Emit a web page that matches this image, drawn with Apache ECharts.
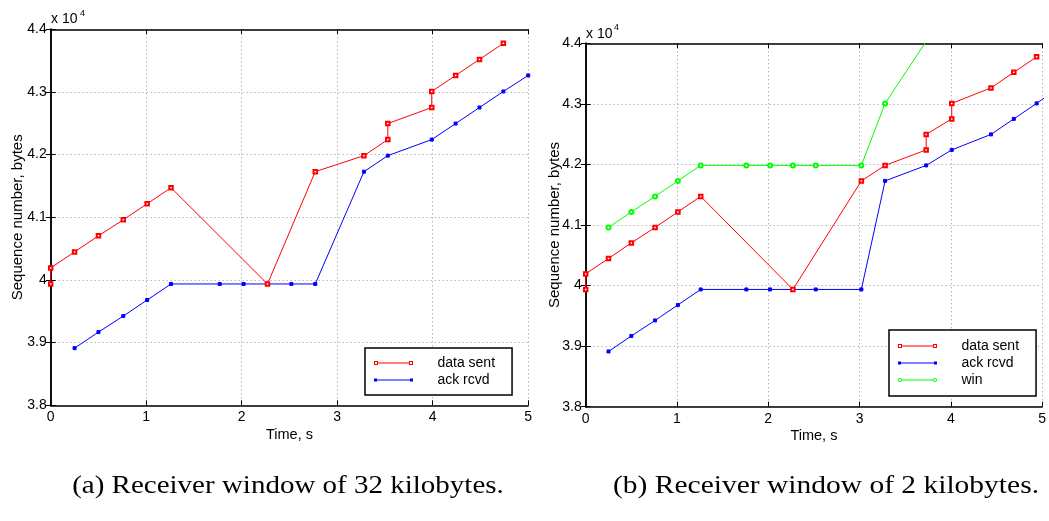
<!DOCTYPE html>
<html>
<head>
<meta charset="utf-8">
<script src="https://cdn.jsdelivr.net/npm/echarts@6/dist/echarts.min.js"></script>
<style>
html,body{margin:0;padding:0;background:#fff;}
#chart{width:1049px;height:521px;}
</style>
</head>
<body>
<div id="chart"></div>
<script>
// ---- data (time in s, sequence number in bytes) ----
const leftSentX  = [0, 0, 0.25, 0.5, 0.76, 1.01, 1.26, 2.27, 2.77, 3.28, 3.53, 3.53, 3.99, 3.99, 4.24, 4.49, 4.74];
const leftSentY  = [39936, 40192, 40448, 40704, 40960, 41216, 41472, 39936, 41728, 41984, 42240, 42496, 42752, 43008, 43264, 43520, 43776];
const leftAckX   = [0.25, 0.5, 0.76, 1.01, 1.26, 1.77, 2.02, 2.27, 2.52, 2.77, 3.28, 3.53, 3.99, 4.24, 4.49, 4.74, 5.0];
const leftAckY   = [38912, 39168, 39424, 39680, 39936, 39936, 39936, 39936, 39936, 39936, 41728, 41984, 42240, 42496, 42752, 43008, 43264];

const rightSentX = [0, 0, 0.25, 0.5, 0.76, 1.01, 1.26, 2.27, 3.02, 3.28, 3.73, 3.73, 4.01, 4.01, 4.44, 4.69, 4.94];
const rightSentY = [39936, 40192, 40448, 40704, 40960, 41216, 41472, 39936, 41728, 41984, 42240, 42496, 42752, 43008, 43264, 43520, 43776];
const rightAckX  = [0.25, 0.5, 0.76, 1.01, 1.26, 1.76, 2.02, 2.27, 2.52, 3.02, 3.28, 3.73, 4.01, 4.44, 4.69, 4.94, 5.18];
const rightAckY  = [38912, 39168, 39424, 39680, 39936, 39936, 39936, 39936, 39936, 39936, 41728, 41984, 42240, 42496, 42752, 43008, 43264];
const rightWinX  = [0.25, 0.5, 0.76, 1.01, 1.26, 1.76, 2.02, 2.27, 2.52, 3.02, 3.28, 3.73];
const rightWinY  = [40960, 41216, 41472, 41728, 41984, 41984, 41984, 41984, 41984, 41984, 43008, 44032];

const xTicks = [0, 1, 2, 3, 4, 5];
const yTicks = [38000, 39000, 40000, 41000, 42000, 43000, 44000];
const xTitle = 'Time, s';
const yTitle = 'Sequence number, bytes';
const captions = ['(a) Receiver window of 32 kilobytes.', '(b) Receiver window of 2 kilobytes.'];
const names = ['data sent', 'ack rcvd', 'win'];

function pairs(xs, ys) { return xs.map((x, i) => [x, ys[i]]); }

const FONT = '"Liberation Sans", Arial, sans-serif';
const grids = [
  {left: 50.7, top: 29.3, width: 477.5, height: 376},
  {left: 585.7, top: 43.3, width: 460.3, height: 363.4}
];

const frameLine = {show: true, lineStyle: {color: '#000', width: 1.5}};
const split = {show: true, lineStyle: {color: '#999', type: [1, 3], width: 1}};
const tick = {show: true, inside: true, length: 5, lineStyle: {color: '#000', width: 1}};

const xAxes = [], yAxes = [];
grids.forEach((g, gi) => {
  xAxes.push({
    gridIndex: gi, type: 'value', min: xTicks[0], max: xTicks[xTicks.length - 1], interval: 1,
    position: 'bottom', axisLine: frameLine, axisTick: tick, splitLine: split,
    axisLabel: {color: '#000', fontSize: 14, fontFamily: FONT, margin: 5},
    name: xTitle, nameLocation: 'middle', nameGap: 22, nameMoveOverlap: false,
    nameTextStyle: {color: '#000', fontSize: 14.5, fontFamily: FONT}
  });
  xAxes.push({
    gridIndex: gi, type: 'value', min: 0, max: 5, interval: 1, position: 'top',
    axisLine: frameLine, axisTick: tick, splitLine: {show: false}, axisLabel: {show: false}
  });
  yAxes.push({
    gridIndex: gi, type: 'value', min: yTicks[0], max: yTicks[yTicks.length - 1], interval: 1000,
    position: 'left', axisLine: frameLine, axisTick: tick, splitLine: split,
    axisLabel: {color: '#000', fontSize: 14, fontFamily: FONT, margin: 4,
      formatter: v => String(Math.round(v / 1000) / 10)},
    name: yTitle, nameLocation: 'middle', nameGap: gi === 0 ? 25 : 23, nameMoveOverlap: false,
    nameTextStyle: {color: '#000', fontSize: 15, fontFamily: FONT}
  });
  yAxes.push({
    gridIndex: gi, type: 'value', min: 38000, max: 44000, interval: 1000, position: 'right',
    axisLine: frameLine, axisTick: tick, splitLine: {show: false}, axisLabel: {show: false}
  });
});

function lineSeries(name, data, gi, color, symbol, size, z) {
  return {
    name, type: 'line', xAxisIndex: gi * 2, yAxisIndex: gi * 2, data,
    symbol, symbolSize: size, showAllSymbol: true, clip: true, z: z,
    lineStyle: {color, width: 1}, itemStyle: {color, borderColor: color, borderWidth: 1},
    animation: false
  };
}

const series = [
  lineSeries(names[1], pairs(leftAckX, leftAckY), 0, '#0000ff', 'rect', 3, 2),
  lineSeries(names[0], pairs(leftSentX, leftSentY), 0, '#ff0000', 'emptyRect', 3.5, 3),
  lineSeries(names[2], pairs(rightWinX, rightWinY), 1, '#00ff00', 'emptyCircle', 4, 2),
  lineSeries(names[1], pairs(rightAckX, rightAckY), 1, '#0000ff', 'rect', 3, 2),
  lineSeries(names[0], pairs(rightSentX, rightSentY), 1, '#ff0000', 'emptyRect', 3.5, 3)
];

const iconRect = 'path://M0,0h4v4h-4z M1,1v2h2v-2z M4,1.5h31v1h-31z M35,0h4v4h-4z M36,1v2h2v-2z';
const iconFill = 'path://M0,0.5h3v3h-3z M3,1.5h33v1h-33z M36,0.5h3v3h-3z';
const iconCirc = 'path://M0,2a2,2 0 1,1 4,0a2,2 0 1,1 -4,0z M1,2a1,1 0 1,0 2,0a1,1 0 1,0 -2,0z M4,1.5h31v1h-31z M35,2a2,2 0 1,1 4,0a2,2 0 1,1 -4,0z M36,2a1,1 0 1,0 2,0a1,1 0 1,0 -2,0z';

function legendItem(name, icon, color) {
  return {name, icon, itemStyle: {color, borderWidth: 0}};
}
const legendBase = {
  orient: 'vertical', backgroundColor: '#fff', borderColor: '#000', borderWidth: 1.5,
  itemWidth: 39, itemHeight: 4, selectedMode: false,
  textStyle: {color: '#000', fontSize: 14, fontFamily: FONT},
  formatter: n => '     ' + n
};

const capFont = '25px "Liberation Serif", serif';
const option = {
  animation: false,
  backgroundColor: '#fff',
  grid: grids,
  xAxis: xAxes,
  yAxis: yAxes,
  legend: [
    Object.assign({}, legendBase, {
      left: 365, top: 348, itemGap: 3, padding: [8, 17, 8, 9],
      data: [legendItem(names[0], iconRect, '#ff0000'), legendItem(names[1], iconFill, '#0000ff')]
    }),
    Object.assign({}, legendBase, {
      left: 889, top: 330, itemGap: 3, padding: [9, 17, 9, 9],
      data: [legendItem(names[0], iconRect, '#ff0000'), legendItem(names[1], iconFill, '#0000ff'),
             legendItem(names[2], iconCirc, '#00ff00')]
    })
  ],
  graphic: [
    {type: 'text', left: 51, top: 12, style: {text: 'x 10', font: '14px ' + FONT, fill: '#000'}},
    {type: 'text', left: 80, top: 9, style: {text: '4', font: '9px ' + FONT, fill: '#000'}},
    {type: 'text', left: 586, top: 27, style: {text: 'x 10', font: '14px ' + FONT, fill: '#000'}},
    {type: 'text', left: 614, top: 23.5, style: {text: '4', font: '9px ' + FONT, fill: '#000'}},
    {type: 'text', x: 288, y: 474, scaleX: 1.16, style: {text: captions[0], font: capFont, fill: '#000', align: 'center', verticalAlign: 'top'}},
    {type: 'text', x: 826, y: 474, scaleX: 1.18, style: {text: captions[1], font: capFont, fill: '#000', align: 'center', verticalAlign: 'top'}}
  ],
  series
};

const chart = echarts.init(document.getElementById('chart'), null, {renderer: 'canvas'});
chart.setOption(option);
</script>
</body>
</html>
